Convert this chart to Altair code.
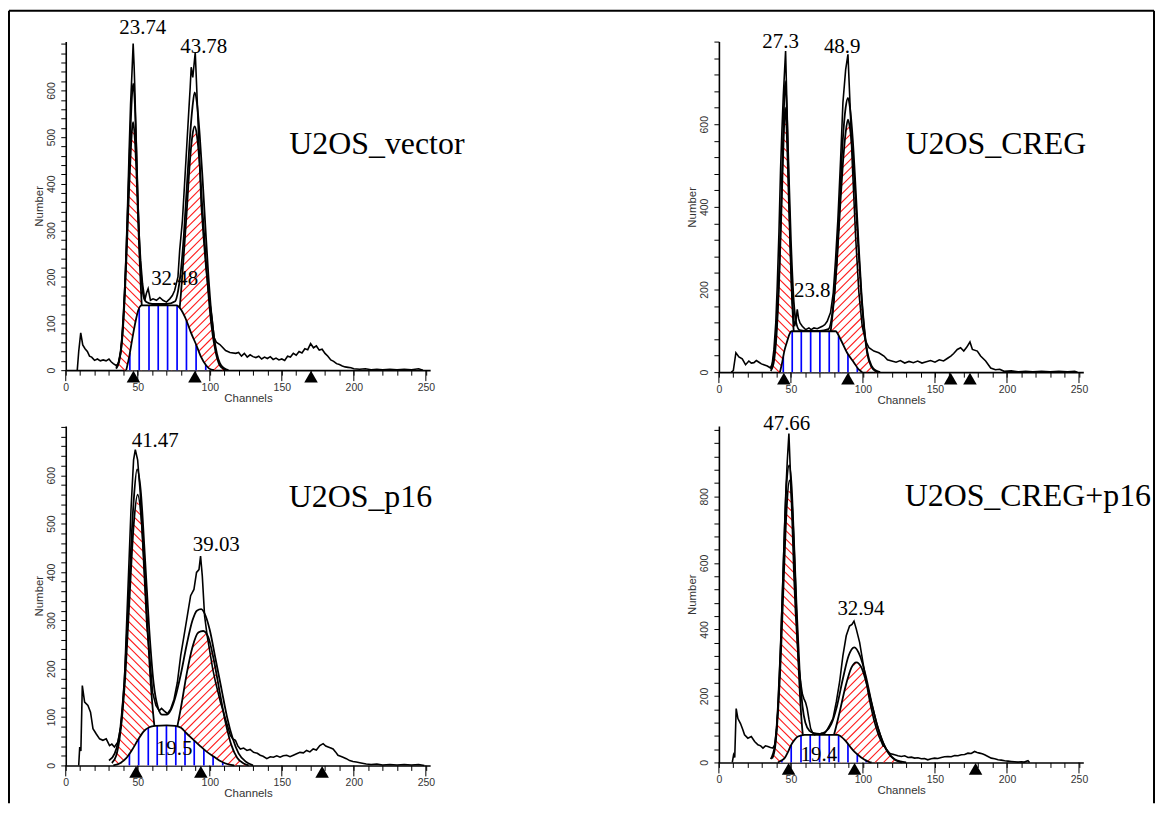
import numpy as np
import pandas as pd
import altair as alt

XMAX = 253
PW = 366
RED = "#ff1a1a"
BLUE = "#0000ff"

# ---------------- Panel 1 : U2OS_vector ----------------
VEC_RAW = [(8,0),(9,40),(10.4,80),(11.8,54),(13.4,46),(15,40),(16.5,30),(18,28),(20,21),(22,24),(24,20),(26,22),(28,20),(30,24),(31.5,18),(33,14),(35,10),(36.5,14),(38,40),(39,70),(40,120),(41,180),(42,260),(43,360),(44,470),(45,570),(46,640),(46.8,701),(47.5,650),(48,600),(49,480),(50,370),(51,290),(52,235),(53.3,186),(54.9,150),(56,165),(57.2,175),(58.8,150),(60.6,153),(63,150),(65.3,156),(67.5,150),(69.9,146),(72.2,153),(74,160),(75.6,171),(77.9,200),(79.1,257),(81,321),(82.5,400),(84,480),(85.5,560),(86.4,607),(87.1,650),(88.2,628),(89.9,682),(91,600),(92,520),(93,440),(94,357),(95.5,290),(97.5,214),(99.8,150),(101.6,110),(103,70),(104.5,60),(107,55),(111,42),(114,38),(118,36),(120,38),(122,30),(124,36),(126,28),(128,33),(130,29),(132,27),(134,30),(136,24),(138,28),(140,25),(142,29),(144,23),(146,26),(148,22),(150,24),(152,21),(154,30),(156,28),(158,36),(160,32),(162,40),(164,37),(166,46),(168,44),(170,57),(172,48),(174,52),(176,43),(178,45),(180,36),(182,30),(184,22),(186,19),(188,14),(190,12),(192,9),(194,7),(196,6),(198,5),(200,3),(204,2),(208,3),(212,1),(216,2),(220,1),(225,2),(230,1),(235,2),(240,1),(245,3),(248,0)]
VEC_FIT = [(35,5),(38,35),(40,110),(42,250),(44,430),(45,520),(46,590),(46.8,615),(48,570),(49,480),(50,370),(51,280),(52,220),(53,180),(54,158),(56,146),(60,142),(70,142),(76,148),(78,170),(80,215),(82,290),(84,390),(86,490),(88,565),(89.5,596),(91,575),(93,505),(95,410),(97,305),(99,205),(101,125),(103,70),(105,35),(107,15),(110,4),(113,0)]
VEC_G1 = [(35,3),(37,18),(39,60),(41,160),(42,230),(43,310),(44,390),(45,460),(46,515),(46.8,532),(48,495),(49,430),(50,345),(51,260),(52,185),(53,125),(54,80),(56,25),(58,6),(60,0)]
VEC_G2 = [(72,10),(75,40),(78,100),(80,165),(82,250),(84,340),(86,440),(88,505),(89.5,523),(91,505),(93,440),(95,340),(97,250),(99,165),(101,100),(104,40),(107,10),(110,2),(112,0)]
VEC_S = [(42,0),(44,28),(46.8,78),(48.5,105),(50.3,128),(52,138),(53,139),(77,139),(80,130),(84,105),(87,80),(90.5,55),(94,28),(97.5,10),(101,1),(103,0)]
VEC_STRIPES = [44.5, 51.0, 57.8, 64.2, 70.7, 77.3, 83.8, 90.5, 97.2]
VEC_MARKERS = [47, 89.7, 170.3]
VEC_LABELS = [("23.74", 53.5, 721), ("43.78", 95.8, 681), ("32.48", 75.6, 182)]
VEC_TITLE = ("U2OS_vector", 155.2, 464)

# ---------------- Panel 2 : U2OS_CREG ----------------
CREG_RAW = [(8.6,0),(10,4),(11.8,47),(13.9,37),(16.2,32),(18.5,18),(20.8,27),(22.5,22),(24.3,23),(26,28),(27.8,24),(29.5,20),(31.2,18),(33.6,15),(35.9,10),(37,20),(38.2,55),(39.5,120),(40.5,208),(41.7,340),(42.8,490),(43.8,590),(44.7,668),(46.3,777),(47.5,611),(48.3,480),(49.1,369),(50,260),(50.9,168),(52.5,111),(53.5,125),(54.4,152),(55.3,130),(56.3,119),(57.9,111),(60.2,103),(62.5,107),(64,103),(66,107),(68.3,105),(70,108),(71.8,111),(73.5,115),(75.2,123),(77.5,144),(79.4,192),(81,273),(82.6,369),(84.5,515),(86.1,652),(88,732),(89.6,769),(91,652),(92.6,506),(94.9,329),(97.2,192),(99.5,111),(101.9,75),(104.2,59),(107.6,51),(111,47),(114.6,39),(117,30),(120,27),(123,24),(126,28),(129,22),(132,26),(135,23),(138,27),(141,22),(144,25),(147,28),(150,24),(153,30),(156,27),(158.5,33),(161,39),(163,45),(165.5,55),(167.8,59),(170,51),(172,60),(174.3,73),(176,55),(179.4,51),(181.7,39),(185.2,27),(188.7,10),(192,6),(195,7),(198,2),(203,3),(208,1),(213,2),(218,1),(224,2),(230,1),(236,2),(242,1),(247,2),(249,0)]
CREG_FIT = [(36,10),(38,35),(40,110),(42,260),(44,500),(45,620),(46,704),(47,650),(48,540),(50,320),(52,170),(54,115),(56,102),(60,100),(70,100),(76,104),(79,150),(82,280),(84,420),(86,560),(88,640),(89.6,664),(91,640),(93,560),(95,440),(97,310),(99,190),(101,105),(103,50),(106,15),(109,4),(112,0)]
CREG_G1 = [(36,3),(38,22),(40,90),(42,240),(44,460),(45,570),(46,640),(47,590),(48,480),(50,250),(52,95),(54,25),(56,4),(58,0)]
CREG_G2 = [(72,8),(75,40),(78,110),(80,180),(82,270),(84,390),(86,500),(88,580),(89.6,611),(91,590),(93,520),(95,410),(97,290),(99,180),(101,100),(103,45),(106,12),(109,2),(111,0)]
CREG_S = [(42.4,0),(44,25),(45.5,52),(47.5,76),(49,92),(50.5,99),(81,99),(84.5,79),(89,47),(93.8,23),(97.2,6),(99.5,0)]
CREG_STRIPES = [44.7, 50.9, 57.2, 63.7, 70.1, 76.6, 83.1, 89.6, 96.1]
CREG_MARKERS = [45.1, 89.6, 160.9, 174.3]
CREG_LABELS = [("27.3", 42.8, 784), ("48.9", 85.6, 772), ("23.8", 64.8, 182)]
CREG_TITLE = ("U2OS_CREG", 129.6, 529)

# ---------------- Panel 3 : U2OS_p16 ----------------
P16_RAW = [(9,0),(9.7,38),(10.5,30),(11.5,165),(13.1,131),(15.4,124),(17.2,110),(18.9,76),(21.2,65),(23.5,55),(25.8,52),(28.1,55),(30.4,41),(32,44),(33.8,38),(36.1,48),(38.4,82),(40.7,172),(43,351),(45.3,529),(47.1,632),(48.3,653),(49.9,632),(51.7,564),(54,426),(56.3,289),(58.6,213),(60.3,151),(62.6,124),(64.9,113),(66.5,118),(68.3,113),(70.6,107),(72.9,117),(75.2,137),(77.5,172),(79.8,227),(82.1,268),(84.4,309),(86.7,351),(89,364),(90.8,399),(92.5,405),(93.6,433),(94.8,392),(96.4,309),(98.2,268),(100.5,227),(102,200),(104,172),(107.4,131),(110.9,96),(114.3,62),(116,55),(117.8,52),(119.5,40),(121.2,34),(123.5,36),(125.8,31),(128,33),(130.4,27),(133,25),(135,21),(137,19),(139.6,14),(142,18),(144.2,17),(146.5,20),(148.8,17),(151,20),(153.4,21),(155.7,18),(158,21),(160.3,24),(162.6,27),(165,26),(167.2,31),(169.5,28),(171.8,34),(174,32),(176.4,41),(178.7,45),(180.5,40),(182.2,38),(184,36),(185.6,34),(187.3,28),(189,21),(190.8,19),(192.5,17),(194.8,14),(197.1,10),(199.4,8),(201.7,7),(205,5),(208.6,3),(212,2),(216,3),(220,1),(225,2),(230,1),(235,2),(240,1),(245,2),(249,0)]
P16_FIT = [(30,10),(34,25),(38,80),(41,190),(44,370),(47,540),(49.5,612),(52,570),(55,430),(58,280),(61,170),(64,120),(67,105),(70,105),(73,115),(76,140),(80,190),(84,250),(88,300),(91,320),(94,323),(97,310),(100,280),(104,220),(108,160),(112,100),(116,55),(120,25),(125,8),(130,0)]
P16_G1 = [(32,5),(35,20),(38,70),(41,170),(44,330),(47,490),(49.9,560),(53,490),(56,330),(59,170),(62,70),(65,20),(68,5),(71,0)]
P16_G2 = [(70,15),(75,48),(80,120),(84,190),(88,245),(92,275),(95.4,278),(99,265),(103,215),(107,150),(111,88),(115,42),(119,16),(123,5),(127,0)]
P16_S = [(33,0),(38,5),(42,15),(46,32),(50,52),(54,70),(58,79),(62,82),(70,83),(76,82),(80,78),(84,66),(88,55),(93,41),(98,28),(103,18),(108,8),(113,2),(117,0)]
P16_STRIPES = [44.2, 50.6, 57.3, 63.5, 69.9, 76.4, 82.8, 89.2, 95.9, 102.3, 109.0]
P16_MARKERS = [48.8, 93.8, 178.0]
P16_LABELS = [("41.47", 62.1, 658), ("39.03", 104.5, 444), ("19.5", 75.3, 21)]
P16_TITLE = ("U2OS_p16", 154.8, 535)

# ---------------- Panel 4 : U2OS_CREG+p16 ----------------
CP_RAW = [(9.3,0),(10.2,23),(11,15),(12,162),(13.2,132),(15,117),(16.5,100),(17.8,83),(20.1,73),(22.5,78),(24.8,63),(27.1,53),(29,50),(30.6,43),(32.3,50),(34,48),(35.8,45),(37.5,43),(38.7,53),(40,100),(41,162),(42.2,280),(43.3,410),(44.5,560),(45.6,709),(46.6,830),(47.5,908),(48.6,989),(49.4,900),(50.2,808),(51.2,680),(52.1,560),(53.2,450),(54.4,361),(55.5,290),(56.7,242),(58,205),(59,192),(60.2,180),(61.3,162),(62.5,130),(63.7,102),(65,90),(66.4,83),(68,86),(69.9,84),(71.6,88),(73.4,87),(75,97),(76.9,112),(79.2,132),(81.5,182),(83.8,242),(86.1,321),(88.4,381),(90.7,410),(92.4,415),(93.8,425),(95.4,401),(97.7,361),(100,301),(102.3,242),(104,200),(105.8,162),(107.5,130),(109.3,102),(111,80),(112.7,63),(114,50),(115,48),(116.5,38),(118.5,28),(120.3,25),(122,23),(124.3,20),(126.6,18),(129,20),(131.3,15),(133.6,16),(135.9,13),(138.2,14),(140.5,11),(142.8,12),(145,8),(147.4,11),(149.8,13),(152,12),(154.4,15),(156.7,17),(159,18),(161.3,17),(163.7,21),(166,20),(168.3,23),(170.6,24),(172.9,28),(175.2,27),(177.5,33),(179.3,30),(181,28),(182.8,26),(184.5,23),(186.8,18),(189.1,13),(191.5,11),(193.8,8),(196,7),(198.4,5),(200.7,4),(203,3),(205.3,2),(207.6,1),(210,2),(212,1),(214.6,5),(215.7,0)]
CP_FIT = [(36,10),(39,55),(41,170),(43,360),(45,620),(47,840),(48.8,893),(50.5,830),(52,680),(54,460),(56,280),(58,170),(60,120),(63,95),(66,88),(70,86),(74,92),(78,115),(82,170),(86,250),(90,320),(94,346),(98,320),(102,260),(106,180),(110,110),(114,60),(118,28),(122,10),(126,3),(130,0)]
CP_G1 = [(37,12),(39,45),(41,150),(43,320),(45,550),(47,760),(49,848),(51,760),(53,550),(55,320),(57,150),(59,55),(61,15),(63,3),(65,0)]
CP_G2 = [(72,15),(76,38),(80,85),(84,155),(88,230),(92,285),(95.4,301),(99,285),(103,230),(107,160),(111,95),(115,48),(119,20),(123,6),(127,0)]
CP_S = [(41,0),(43,5),(45.6,13),(48,32),(50.2,53),(52.5,68),(54.9,78),(59.5,83),(82.6,83),(85,77),(87.3,68),(89.6,56),(91.9,43),(94.2,32),(96.5,23),(98.8,15),(101.2,8),(103,4),(104.6,1),(106,0)]
CP_STRIPES = [43.7, 50.2, 57.0, 63.4, 69.9, 76.6, 83.1, 89.6, 96.1, 102.3]
CP_MARKERS = [48.4, 94.2, 178.2]
CP_LABELS = [("47.66", 47.1, 999), ("32.94", 98.6, 444), ("19.4", 69.4, 3)]
CP_TITLE = ("U2OS_CREG+p16", 129.0, 771)


def xy(pairs):
    return pd.DataFrame(pairs, columns=["x", "y"])


def hatch(pairs, ymax, H, sign, gap=8.5):
    """Diagonal hatch segments under a curve, computed in pixel space, returned in data units."""
    sx = PW / XMAX
    sy = H / ymax
    xs = np.array([p[0] for p in pairs], float)
    ys = np.array([p[1] for p in pairs], float)
    px = np.arange(xs[0] * sx, xs[-1] * sx, 0.25)
    gy = np.interp(px / sx, xs, ys) * sy
    top = gy.max()
    if sign > 0:
        cs = np.arange(px[0] - top, px[-1], gap)
    else:
        cs = np.arange(px[0], px[-1] + top, gap)
    rows = []
    for c in cs:
        py = (px - c) if sign > 0 else (c - px)
        inside = (py >= 0) & (py <= gy)
        if not inside.any():
            continue
        idx = np.flatnonzero(inside)
        br = np.flatnonzero(np.diff(idx) > 1)
        starts = np.r_[idx[0], idx[br + 1]]
        ends = np.r_[idx[br], idx[-1]]
        for a, b in zip(starts, ends):
            if b - a < 2:
                continue
            rows.append({"x": px[a] / sx, "y": py[a] / sy, "x2": px[b] / sx, "y2": py[b] / sy})
    return pd.DataFrame(rows)


def panel(raw, fit, g1, g2, s, stripes, markers, labels, title, ymax, H, minor, major, labmax, frame=False):
    xscale = alt.Scale(domain=[0, XMAX], nice=False, zero=False)
    yscale = alt.Scale(domain=[0, ymax], nice=False, zero=False)
    xax = alt.Axis(values=list(range(0, 251, 10)),
                   labelExpr="datum.value % 50 === 0 ? datum.label : ''",
                   tickSize=5, tickColor="black", tickWidth=1,
                   domainColor="black", domainWidth=1.6,
                   labelFont="Liberation Sans", labelFontSize=10.5, labelColor="#333",
                   labelPadding=7, labelFlush=False, labelOverlap=False,
                   title="Channels", titleFont="Liberation Sans", titleFontSize=11.5,
                   titleFontWeight="normal", titleColor="#333", titlePadding=0, grid=False)
    yax = alt.Axis(values=list(range(0, int(ymax) + 1, minor)),
                   labelExpr=f"datum.value % {major} === 0 && datum.value <= {labmax} ? datum.label : ''",
                   labelAngle=270, labelAlign="center", labelBaseline="bottom",
                   tickSize=5, tickColor="black", tickWidth=1,
                   domainColor="black", domainWidth=1.6,
                   labelFont="Liberation Sans", labelFontSize=10.5, labelColor="#333",
                   labelPadding=4, labelOverlap=False, labelFlush=False,
                   title="Number", titleFont="Liberation Sans", titleFontSize=11.5,
                   titleFontWeight="normal", titleColor="#333", titlePadding=2, grid=False)
    X = alt.X("x:Q", scale=xscale, axis=xax)
    Y = alt.Y("y:Q", scale=yscale, axis=yax)

    layers = []
    # red hatching of G1 ("\") and G2 ("/")
    layers.append(alt.Chart(hatch(g1, ymax, H, -1)).mark_rule(color=RED, strokeWidth=1.1)
                  .encode(x=X, y=Y, x2="x2:Q", y2="y2:Q"))
    layers.append(alt.Chart(hatch(g2, ymax, H, +1)).mark_rule(color=RED, strokeWidth=1.1)
                  .encode(x=X, y=Y, x2="x2:Q", y2="y2:Q"))
    # G1 / G2 outlines
    for g in (g1, g2):
        layers.append(alt.Chart(xy(g)).mark_line(color="black", strokeWidth=1.8, interpolate="monotone")
                      .encode(x=X, y=Y))
    # S phase: white area, blue stripes, outline
    layers.append(alt.Chart(xy(s)).mark_area(color="white", opacity=1, interpolate="monotone")
                  .encode(x=X, y=Y))
    sx = [p[0] for p in s]
    sv = [p[1] for p in s]
    st = pd.DataFrame({"x": stripes, "y": 0.0, "y2": np.interp(stripes, sx, sv)})
    layers.append(alt.Chart(st).mark_rule(color=BLUE, strokeWidth=1.7).encode(x=X, y=Y, y2="y2:Q"))
    layers.append(alt.Chart(xy(s)).mark_line(color="black", strokeWidth=1.8, interpolate="monotone")
                  .encode(x=X, y=Y))
    # total fit and raw histogram
    layers.append(alt.Chart(xy(fit)).mark_line(color="black", strokeWidth=1.8, interpolate="monotone")
                  .encode(x=X, y=Y))
    layers.append(alt.Chart(xy(raw)).mark_line(color="black", strokeWidth=1.6)
                  .encode(x=X, y=Y))
    # long major x ticks
    maj = pd.DataFrame({"x": list(range(0, 251, 50))})
    layers.append(alt.Chart(maj).mark_rule(color="black", strokeWidth=1)
                  .encode(x=X, y=alt.value(H), y2=alt.value(H + 11)))
    # peak markers
    mk = pd.DataFrame({"x": markers, "y": 0.0})
    layers.append(alt.Chart(mk).mark_point(shape="triangle-up", filled=True, color="black",
                                           opacity=1, size=185, yOffset=6.5)
                  .encode(x=X, y=Y))
    # percentage labels
    lb = pd.DataFrame(labels, columns=["t", "x", "y"])
    layers.append(alt.Chart(lb).mark_text(font="Liberation Serif", fontSize=21, color="black",
                                          align="center", baseline="alphabetic")
                  .encode(x=X, y=Y, text="t:N"))
    tt = pd.DataFrame([title], columns=["t", "x", "y"])
    layers.append(alt.Chart(tt).mark_text(font="Liberation Serif", fontSize=32, color="black",
                                          align="left", baseline="alphabetic")
                  .encode(x=X, y=Y, text="t:N"))
    if frame:
        fr = pd.DataFrame({"k": [0]})
        layers.append(alt.Chart(fr).mark_rule(color="black", strokeWidth=2)
                      .encode(x=alt.value(-57), y=alt.value(-31), y2=alt.value(765)))
        layers.append(alt.Chart(fr).mark_rule(color="black", strokeWidth=2)
                      .encode(x=alt.value(-57), x2=alt.value(1093), y=alt.value(-31)))
        layers.append(alt.Chart(fr).mark_rule(color="black", strokeWidth=2)
                      .encode(x=alt.value(1093), y=alt.value(-31), y2=alt.value(765)))
    return alt.layer(*layers).properties(width=PW, height=H)


p1 = panel(VEC_RAW, VEC_FIT, VEC_G1, VEC_G2, VEC_S, VEC_STRIPES, VEC_MARKERS, VEC_LABELS, VEC_TITLE,
           705, 330, 20, 100, 600, frame=True)
p2 = panel(CREG_RAW, CREG_FIT, CREG_G1, CREG_G2, CREG_S, CREG_STRIPES, CREG_MARKERS, CREG_LABELS, CREG_TITLE,
           800, 332, 40, 200, 600)
p3 = panel(P16_RAW, P16_FIT, P16_G1, P16_G2, P16_S, P16_STRIPES, P16_MARKERS, P16_LABELS, P16_TITLE,
           702, 341, 20, 100, 600)
p4 = panel(CP_RAW, CP_FIT, CP_G1, CP_G2, CP_S, CP_STRIPES, CP_MARKERS, CP_LABELS, CP_TITLE,
           1012, 338, 40, 200, 800)

chart = alt.concat(p1, p2, p3, p4, columns=2, spacing={"row": 45, "column": 290},
                   bounds="flush", align="all").properties(padding=0).configure_view(strokeWidth=0)

chart.save("out.html", embed_options={"renderer": "svg", "actions": False})
